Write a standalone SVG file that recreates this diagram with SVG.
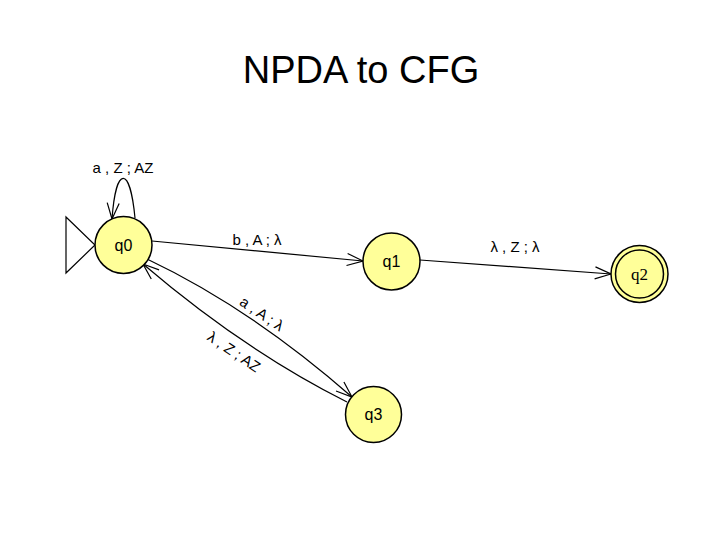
<svg xmlns="http://www.w3.org/2000/svg" width="720" height="540" viewBox="0 0 720 540">
<defs>
<style>
.title{font-family:"Liberation Sans",Arial,sans-serif;font-size:38px;fill:#000;text-anchor:middle}
.st{fill:#ffff99;stroke:#000;stroke-width:1.5}
.nl{font-family:"Liberation Sans",Arial,sans-serif;font-size:16px;fill:#000;text-anchor:middle}
.nls{font-family:"Liberation Serif","Times New Roman",serif;font-size:17px;fill:#000;text-anchor:middle}
.e{fill:none;stroke:#000;stroke-width:1.2}
.el{font-family:"Liberation Sans",Arial,sans-serif;font-size:15px;fill:#000;text-anchor:middle}
</style>
<marker id="arr" markerUnits="userSpaceOnUse" viewBox="-18 -8 20 16" refX="0" refY="0" markerWidth="20" markerHeight="16" orient="auto" overflow="visible">
<path d="M-16,-6 L0,0 L-16,6" fill="none" stroke="#000" stroke-width="1.2"/>
</marker>
</defs>
<rect width="720" height="540" fill="#fff"/>
<text class="title" x="361" y="83">NPDA to CFG</text>
<g id="connectors">
<path class="e" d="M135,218 C130,165 116,165 112,219" marker-end="url(#arr)"/>
<text class="el" x="123" y="173">a , Z ; AZ</text>
<line class="e" x1="152" y1="241" x2="363" y2="261" marker-end="url(#arr)"/>
<text class="el" x="257" y="245">b , A ; λ</text>
<line class="e" x1="420" y1="260" x2="611" y2="274" marker-end="url(#arr)"/>
<text class="el" x="515" y="252">λ , Z ; λ</text>
<path class="e" d="M147,259 Q250.5,308 352,397" marker-end="url(#arr)"/>
<text class="el" transform="translate(259,318) rotate(34)">a , A ; λ</text>
<path class="e" d="M347,402 Q245,351 143,264" marker-end="url(#arr)"/>
<text class="el" transform="translate(231,356) rotate(34)">λ , Z ; AZ</text>
</g>
<g id="start">
<path d="M66,217 L95,245 L66,273 Z" fill="none" stroke="#000" stroke-width="1.2"/>
</g>
<g id="q0">
<circle class="st" cx="123.5" cy="245" r="28.5"/>
<text class="nl" x="123.5" y="251">q0</text>
</g>
<g id="q1">
<circle class="st" cx="391.5" cy="261.5" r="28.5"/>
<text class="nl" x="391.5" y="267">q1</text>
</g>
<g id="q2">
<circle class="st" cx="639.5" cy="274" r="28.5"/>
<circle class="st" cx="639.5" cy="274" r="24"/>
<text class="nls" x="639.5" y="280">q2</text>
</g>
<g id="q3">
<circle class="st" cx="373.5" cy="414.5" r="28"/>
<text class="nl" x="373.5" y="420">q3</text>
</g>
</svg>
